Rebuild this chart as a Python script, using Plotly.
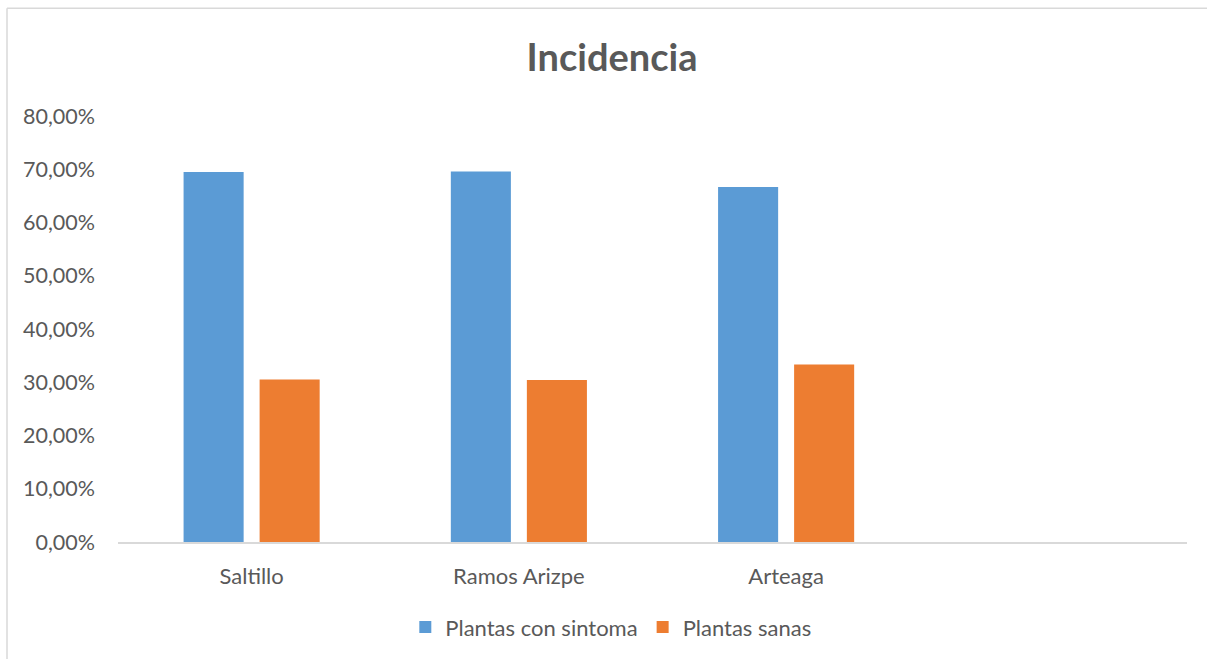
import plotly.graph_objects as go

categories = ["Saltillo", "Ramos Arizpe", "Arteaga"]
con_sintoma = [0.695, 0.696, 0.6667]
sanas = [0.305, 0.304, 0.3333]
y_ticks = [0, 0.1, 0.2, 0.3, 0.4, 0.5, 0.6, 0.7, 0.8]
y_tick_labels = ["0,00%", "10,00%", "20,00%", "30,00%", "40,00%", "50,00%", "60,00%", "70,00%", "80,00%"]

FONT = "Lato, Calibri, sans-serif"
TXT = "#595959"

fig = go.Figure()
fig.add_trace(go.Bar(name="Plantas con sintoma", x=categories, y=con_sintoma,
                     marker=dict(color="#5B9BD5", line=dict(width=0))))
fig.add_trace(go.Bar(name="Plantas sanas", x=categories, y=sanas,
                     marker=dict(color="#ED7D31", line=dict(width=0))))

bx0 = (7 - 118) / 1069
bx1 = (1207 - 118) / 1069
by1 = (543 - 8) / 427
fig.update_layout(
    width=1209, height=659,
    margin=dict(l=118, r=22, t=116, b=116),
    paper_bgcolor="white", plot_bgcolor="white",
    barmode="group", bargap=0.431, bargroupgap=0.21,
    title=dict(text="<b>Incidencia</b>", x=612 / 1209, xref="container", xanchor="center",
               y=1 - 58 / 659, yref="container", yanchor="middle",
               font=dict(family=FONT, size=38, color=TXT)),
    font=dict(family=FONT, size=21, color=TXT),
    showlegend=True,
    legend=dict(orientation="h", x=0.461, xanchor="center", y=-0.197, yanchor="middle",
                font=dict(family=FONT, size=22, color=TXT), itemwidth=30,
                traceorder="normal"),
    shapes=[
        dict(type="line", xref="paper", yref="paper", x0=bx0, x1=bx1, y0=by1, y1=by1,
             line=dict(color="#d9d9d9", width=1.5), layer="below"),
        dict(type="line", xref="paper", yref="paper", x0=bx0, x1=bx0, y0=-0.6, y1=by1,
             line=dict(color="#d9d9d9", width=1.5), layer="below"),
    ],
)
fig.update_xaxes(type="category", range=[-0.5, 3.5], showgrid=False,
                 showline=True, linecolor="#d9d9d9", linewidth=1.5,
                 ticks="", ticklabelstandoff=14,
                 tickfont=dict(family=FONT, size=22, color=TXT))
fig.update_yaxes(range=[0, 0.8], tickvals=y_ticks, ticktext=y_tick_labels,
                 showgrid=False, showline=False, zeroline=False, ticks="",
                 ticklabelstandoff=22,
                 tickfont=dict(family=FONT, size=21.5, color=TXT))

fig.write_html("out.html")
